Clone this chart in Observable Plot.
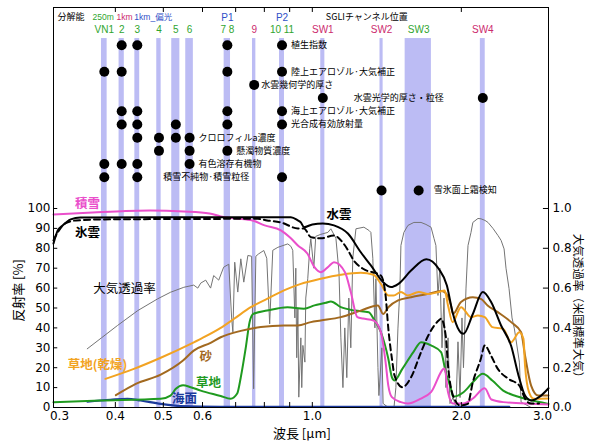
<!DOCTYPE html>
<html><head><meta charset="utf-8">
<script src="https://cdn.jsdelivr.net/npm/d3@7"></script>
<script src="https://cdn.jsdelivr.net/npm/@observablehq/plot@0.6"></script>
<style>body{margin:0;background:#fff} svg{display:block}</style>
</head><body><div id="chart"></div>
<script>
// SGLI channels: id, label, centre wavelength [um], band width [um], resolution group
const channels = [
  {id:"VN1", label:"VN1", c:0.380, w:0.010, g:"250m"},
  {id:"VN2", label:"2", c:0.412, w:0.010, g:"250m"},
  {id:"VN3", label:"3", c:0.443, w:0.010, g:"250m"},
  {id:"VN4", label:"4", c:0.490, w:0.010, g:"250m"},
  {id:"VN5", label:"5", c:0.530, w:0.020, g:"250m"},
  {id:"VN6", label:"6", c:0.565, w:0.020, g:"250m"},
  {id:"VN7", label:"7 8", c:0.6735, w:0.020, g:"250m"},
  {id:"VN9", label:"9", c:0.763, w:0.012, g:"1km"},
  {id:"VN10", label:"10 11", c:0.8685, w:0.020, g:"250m"},
  {id:"SW1", label:"SW1", c:1.050, w:0.020, g:"1km"},
  {id:"SW2", label:"SW2", c:1.380, w:0.020, g:"1km"},
  {id:"SW3", label:"SW3", c:1.640, w:0.200, g:"250m"},
  {id:"SW4", label:"SW4", c:2.210, w:0.050, g:"1km"}
];
const polar = [{label:"P1", c:0.6735}, {label:"P2", c:0.8685}];

// products and the channels they use (row = line in the table)
const products = [
  {row:0, name:"植生指数", ch:["VN2","VN3","VN7","VN10"]},
  {row:2, name:"陸上エアロゾル·大気補正", ch:["VN1","VN2","VN7","VN10"]},
  {row:3, name:"水雲幾何学的厚さ", ch:["VN9"]},
  {row:4, name:"水雲光学的厚さ・粒径", ch:["SW1","SW4"], at:1.213},
  {row:5, name:"海上エアロゾル·大気補正", ch:["VN2","VN3","VN7","VN10"]},
  {row:6, name:"光合成有効放射量", ch:["VN2","VN3","VN5","VN7","VN10"]},
  {row:7, name:"クロロフィルa濃度", ch:["VN3","VN4","VN5","VN6"]},
  {row:8, name:"懸濁物質濃度", ch:["VN4","VN6","VN7"]},
  {row:9, name:"有色溶存有機物", ch:["VN1","VN2","VN3","VN6"]},
  {row:10, name:"積雪不純物·積雪粒径", ch:["VN1","VN3","VN10"], at:0.50},
  {row:11, name:"雪氷面上霜検知", ch:["SW2","SW3"]}
];

// reflectance spectra [wavelength um, reflectance %]
const snow = [[0.30,97],[0.36,98],[0.42,98.8],[0.47,99],[0.55,98.5],[0.62,97.5],[0.653,96],[0.70,95],[0.757,94],[0.801,91.5],[0.864,89],[0.905,85],[0.935,81.4],[0.977,77.4],[1.01,70.5],[1.04,68],[1.08,71],[1.106,73],[1.164,68],[1.196,58],[1.233,45.4],[1.266,44.7],[1.33,43.7],[1.376,37.8],[1.406,22.8],[1.424,11],[1.448,5.2],[1.51,2.7],[1.56,2],[1.658,4.5],[1.737,7.7],[1.85,19.6],[1.88,7.7],[1.924,2],[2.02,2],[2.11,4.5],[2.23,9.7],[2.30,4],[2.43,2.7],[3.0,1.5]];
const waterCloud = [[0.300,82.4],[0.306,89],[0.313,91.5],[0.325,94.5],[0.340,95.5],[0.50,95.6],[0.905,95.6],[0.935,94],[0.948,93],[0.962,90.6],[1.00,92],[1.05,92.5],[1.106,91.5],[1.18,87.4],[1.253,78],[1.313,71.4],[1.39,63],[1.442,60.5],[1.49,62],[1.583,68.8],[1.70,74.5],[1.80,69.7],[1.87,61.3],[1.92,47.9],[1.98,38.7],[2.02,37],[2.11,47],[2.21,58],[2.297,53],[2.406,41.2],[2.521,31],[2.61,16],[2.69,6],[2.767,3.5],[2.87,5.2],[3.0,9.7]];
const iceCloud = [[0.300,84],[0.306,88],[0.317,92.5],[0.333,94],[0.373,94.5],[0.776,94.8],[0.81,94],[0.864,93],[0.935,90],[0.962,90],[0.993,85.6],[1.04,85],[1.106,86.4],[1.164,81.4],[1.22,73],[1.266,69.7],[1.376,66.3],[1.406,56.3],[1.424,39.7],[1.448,24.6],[1.466,16],[1.52,10.2],[1.583,15.2],[1.658,27.8],[1.715,36.2],[1.80,43.7],[1.82,44.6],[1.86,36],[1.88,21],[1.924,6],[1.99,1],[2.06,1.8],[2.11,12.7],[2.19,24.5],[2.23,31.2],[2.297,26],[2.37,19.4],[2.49,14.4],[2.62,11],[2.69,4.4],[2.767,2],[2.87,2]];
const dryGrass = [[0.382,14.4],[0.436,19.4],[0.494,25],[0.568,32],[0.595,34.5],[0.653,40],[0.695,44.6],[0.751,50.4],[0.81,54.6],[0.891,59.6],[0.948,62.1],[1.04,64.7],[1.142,66.7],[1.253,67.7],[1.33,66.7],[1.376,62.1],[1.424,56.3],[1.46,56.3],[1.51,58],[1.56,56.3],[1.64,58],[1.715,57],[1.80,58],[1.85,58.8],[1.88,51.3],[1.92,42.9],[1.997,50.4],[2.092,45.4],[2.16,46.2],[2.23,45.4],[2.31,40.4],[2.43,39.5],[2.521,32.8],[2.62,37.8],[2.67,34.5],[2.69,21],[2.74,7.7],[2.80,4.4],[3.0,4.5]];
const sand = [[0.401,6.2],[0.44,11.9],[0.494,16.5],[0.548,23.6],[0.576,28.6],[0.623,32.5],[0.653,35.3],[0.717,38.5],[0.787,40.4],[0.876,41.2],[0.935,41.2],[0.993,42.9],[1.04,43.7],[1.142,45.4],[1.253,48.7],[1.357,51.3],[1.39,47],[1.424,50.4],[1.49,53.8],[1.583,55.4],[1.715,57.1],[1.82,58.5],[1.85,58],[1.906,51.3],[1.924,47],[1.997,53],[2.11,55.4],[2.19,54.6],[2.26,51.3],[2.37,47.9],[2.521,42.9],[2.641,37.8],[2.69,26],[2.767,11],[2.86,6],[3.0,6]];
const grass = [[0.300,2.7],[0.373,3.5],[0.494,4.4],[0.517,6],[0.53,9.4],[0.548,11.2],[0.568,10.2],[0.595,8.5],[0.653,5.8],[0.684,4.4],[0.705,7],[0.717,15.2],[0.734,30.3],[0.747,43],[0.76,47],[0.81,48.7],[0.891,50.4],[0.962,49.6],[1.01,51.3],[1.065,52.6],[1.09,53.3],[1.142,50.4],[1.22,48.7],[1.30,47.9],[1.33,44.6],[1.376,37.8],[1.424,24.5],[1.448,15.2],[1.466,13.6],[1.52,19.4],[1.60,27.8],[1.658,32.8],[1.737,31.2],[1.82,27.8],[1.86,17.7],[1.906,9.4],[1.924,5.5],[2.02,7.7],[2.11,12.7],[2.21,16.9],[2.31,13.6],[2.43,8.5],[2.56,6],[2.73,4],[3.0,1.8]];
const sea = [[0.351,3],[0.391,3.9],[0.423,4.4],[0.45,3.5],[0.494,1.8],[0.542,0.7],[0.653,0.3],[2.5,0.3]];
// atmospheric transmittance (US standard atmosphere) [wavelength um, transmittance 0-1]
const transmittance = [[0.351,0.295],[0.375,0.35],[0.404,0.412],[0.444,0.487],[0.487,0.546],[0.517,0.579],[0.550,0.604],[0.576,0.615],[0.587,0.60],[0.595,0.625],[0.609,0.64],[0.623,0.60],[0.632,0.663],[0.647,0.64],[0.662,0.705],[0.678,0.72],[0.687,0.45],[0.691,0.38],[0.697,0.73],[0.707,0.58],[0.717,0.747],[0.727,0.63],[0.741,0.764],[0.754,0.76],[0.761,0.094],[0.769,0.76],[0.779,0.772],[0.798,0.789],[0.809,0.75],[0.820,0.42],[0.832,0.79],[0.852,0.805],[0.892,0.822],[0.905,0.81],[0.913,0.79],[0.922,0.45],[0.926,0.70],[0.930,0.25],[0.935,0.5],[0.939,0.052],[0.948,0.35],[0.952,0.10],[0.957,0.312],[0.966,0.228],[0.970,0.55],[0.979,0.647],[0.988,0.80],[0.993,0.848],[1.007,0.70],[1.016,0.86],[1.040,0.87],[1.075,0.88],[1.090,0.898],[1.116,0.85],[1.132,0.68],[1.142,0.35],[1.153,0.10],[1.163,0.40],[1.174,0.15],[1.185,0.55],[1.196,0.30],[1.207,0.75],[1.225,0.898],[1.271,0.906],[1.301,0.89],[1.313,0.88],[1.325,0.75],[1.338,0.40],[1.344,0.647],[1.357,0.20],[1.363,0.06],[1.382,0.30],[1.39,0.02],[1.424,0.0],[1.462,0.0],[1.475,0.10],[1.489,0.395],[1.503,0.60],[1.51,0.814],[1.531,0.88],[1.56,0.915],[1.604,0.93],[1.658,0.93],[1.696,0.92],[1.737,0.906],[1.761,0.85],[1.777,0.814],[1.794,0.563],[1.81,0.70],[1.828,0.30],[1.845,0.55],[1.862,0.10],[1.88,0.35],[1.897,0.02],[1.924,0.05],[1.951,0.0],[1.969,0.33],[1.988,0.05],[2.006,0.45],[2.02,0.2],[2.044,0.6],[2.063,0.814],[2.092,0.88],[2.11,0.93],[2.161,0.95],[2.192,0.948],[2.233,0.94],[2.264,0.93],[2.317,0.90],[2.372,0.864],[2.406,0.84],[2.44,0.797],[2.462,0.70],[2.497,0.597],[2.532,0.45],[2.56,0.395],[2.62,0.228],[2.641,0.027],[2.767,0.0],[3.0,0.0]];

const xTicks = [0.3,0.4,0.5,0.6,0.7,0.8,0.9,1.0,2.0,3.0];
const yTicks = [0,10,20,30,40,50,60,70,80,90,100];
const rightTicks = [0,20,40,60,80,100];

const groupColor = {"250m":"#2fa52f", "1km":"#cc2a6e", "偏光":"#3050c8"};
const C = {snow:"#ea4fcb", dry:"#f2a322", sand:"#a2691f", grass:"#1f9a1f", sea:"#1c3a9c", trans:"#747474", band:"#bcbcf4"};

const chById = Object.fromEntries(channels.map(d => [d.id, d]));
const rowY = r => 182 - r * 6.63;
const dots = products.flatMap(p => p.ch.map(id => ({x: chById[id].c, y: rowY(p.row)})));
const lastCh = p => p.ch[p.ch.length - 1];
const prodLabels = products.map(p => ({
  name: p.name, y: rowY(p.row),
  x: p.at ?? chById[lastCh(p)].c,
  off: p.at ? 0 : (lastCh(p) === "SW3" ? 15 : (lastCh(p) === "VN9" ? 7 : 9))
}));
const jp = "Noto Sans CJK JP";
const line = (data, stroke, extra={}) => Plot.line(data, {x: d => d[0], y: d => d[1], stroke, strokeWidth: 2, curve: "monotone-x", ...extra});
const prodText = off => Plot.text(prodLabels.filter(d => d.off === off), {x:"x", y:"y", text:"name", dx: off, textAnchor: "start", fontSize: 9, fontFamily: jp, fill: "black"});
const xAxis = (ticks, dx) => Plot.axisX(ticks, {anchor: "bottom", tickSize: 0, tickPadding: 4, dx, fontSize: 12, tickFormat: d => d.toFixed(1), label: null});

const plot = Plot.plot({
  width: 590, height: 443,
  marginLeft: 53, marginRight: 42, marginTop: 7, marginBottom: 36,
  x: {type: "log", domain: [0.3, 3.0]},
  y: {domain: [0, 201]},
  style: {fontFamily: "DejaVu Sans, " + jp, background: "white", color: "black"},
  marks: [
    Plot.rect(channels, {x1: d => d.c - d.w/2, x2: d => d.c + d.w/2, y1: 0, y2: 185.4, fill: C.band}),
    Plot.line(transmittance, {x: d => d[0], y: d => d[1] * 100, stroke: C.trans, strokeWidth: 1}),
    line(sea, C.sea, {strokeWidth: 2.2}),
    line(grass, C.grass),
    line(sand, C.sand),
    line(dryGrass, C.dry),
    line(snow, C.snow),
    line(iceCloud, "black", {strokeDasharray: "6,4"}),
    line(waterCloud, "black"),
    Plot.frame({stroke: "black"}),
    // inward ticks
    Plot.ruleX(xTicks, {y1: 0, y2: 2.5, stroke: "black"}),
    Plot.ruleX(xTicks, {y1: 198.5, y2: 201, stroke: "black"}),
    Plot.ruleY(yTicks, {x1: 0.3, x2: 0.306, stroke: "black"}),
    Plot.ruleY(rightTicks, {x1: 2.93, x2: 3.0, stroke: "black"}),
    // axes
    xAxis([0.3], 6),
    xAxis(xTicks.slice(1, -1), 0),
    xAxis([3.0], -6),
    Plot.axisY(yTicks, {anchor: "left", tickSize: 0, tickPadding: 3, fontSize: 12, label: null}),
    Plot.axisY(rightTicks, {anchor: "right", tickSize: 0, tickPadding: 4, fontSize: 12, tickFormat: d => (d/100).toFixed(1), label: null}),
    Plot.text(["反射率 [%]"], {x: 0.255, y: 58.8, rotate: -90, fontSize: 13, fontFamily: jp}),
    Plot.text(["大気透過率（米国標準大気）"], {x: 3.44, y: 49.7, rotate: 90, fontSize: 11.5, fontFamily: jp}),
    Plot.text(["波長 [μm]"], {x: 0.9526, y: -13.1, fontSize: 13, fontFamily: jp}),
    // curve labels
    Plot.text([
      {t:"積雪", x:0.3515, y:102.5, c:C.snow},
      {t:"氷雲", x:0.3515, y:87.9, c:"black"},
      {t:"水雲", x:1.132, y:96.5, c:"black"},
      {t:"草地(乾燥)", x:0.368, y:21.6, c:C.dry},
      {t:"砂", x:0.609, y:25.6, c:C.sand},
      {t:"草地", x:0.617, y:12.1, c:C.grass},
      {t:"海面", x:0.552, y:4.2, c:C.sea}
    ], {x:"x", y:"y", text:"t", fill:"c", fontSize: 12.5, fontWeight: "bold", fontFamily: jp}),
    Plot.text(["大気透過率"], {x: 0.4176, y: 59.3, fontSize: 12.5, fontFamily: jp}),
    // header
    Plot.text([{t:"分解能", x:0.3056}, {t:"SGLIチャンネル位置", x:1.065}],
      {x:"x", y:196, text:"t", fill:"black", textAnchor:"start", fontSize: 9, fontFamily: jp}),
    Plot.text([
      {t:"250m", x:0.3598, c:groupColor["250m"]},
      {t:"1km", x:0.402, c:groupColor["1km"]},
      {t:"1km_偏光", x:0.437, c:groupColor["偏光"]}
    ], {x:"x", y:196, text:"t", fill:"c", textAnchor:"start", fontSize: 8.5, fontFamily: "Liberation Sans, " + jp}),
    Plot.text(polar, {x:"c", y:196, text:"label", fill: groupColor["偏光"], fontSize: 10, fontFamily: "Liberation Sans"}),
    Plot.text(channels, {x:"c", y:189.6, text:"label", fill: d => groupColor[d.g], fontSize: 10, fontFamily: "Liberation Sans"}),
    // product table
    Plot.dot(dots, {x:"x", y:"y", r: 5, fill: "black"}),
    prodText(0), prodText(7), prodText(9), prodText(15)
  ]
});
document.getElementById("chart").append(plot);
</script></body></html>
